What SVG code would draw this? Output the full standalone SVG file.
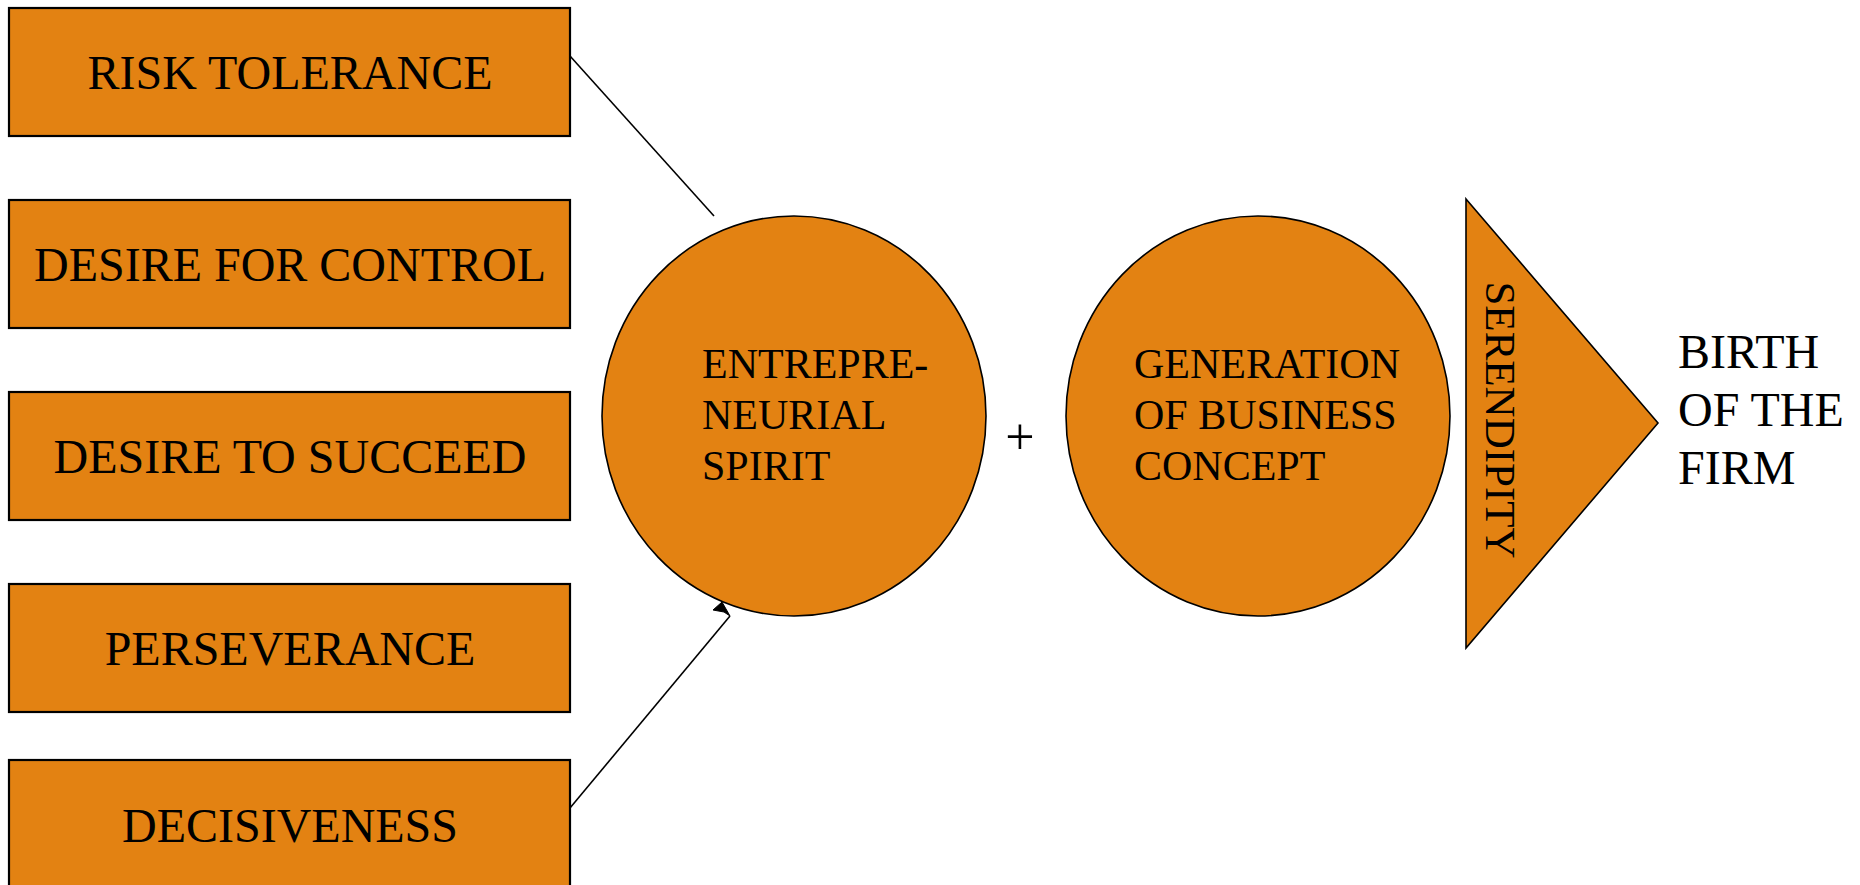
<svg xmlns="http://www.w3.org/2000/svg" width="1860" height="885" viewBox="0 0 1860 885">
<style>
.box{fill:#E38212;stroke:#000;stroke-width:2.2}
.shape{fill:#E38212;stroke:#000;stroke-width:1.6}
.t{font-family:"Liberation Serif","Times New Roman",serif;fill:#000}
.bt{font-size:48px;text-anchor:middle}
.ct{font-size:42px}
.conn{stroke:#000;stroke-width:1.6;fill:none}
</style>
<rect width="1860" height="885" fill="#fff"/>
<g id="risk-tolerance">
<rect class="box" x="9" y="8" width="561" height="128"/>
<text class="t bt" x="290" y="89">RISK TOLERANCE</text>
</g>
<g id="desire-for-control">
<rect class="box" x="9" y="200" width="561" height="128"/>
<text class="t bt" x="290" y="281">DESIRE FOR CONTROL</text>
</g>
<g id="desire-to-succeed">
<rect class="box" x="9" y="392" width="561" height="128"/>
<text class="t bt" x="290" y="473">DESIRE TO SUCCEED</text>
</g>
<g id="perseverance">
<rect class="box" x="9" y="584" width="561" height="128"/>
<text class="t bt" x="290" y="665">PERSEVERANCE</text>
</g>
<g id="decisiveness">
<rect class="box" x="9" y="760" width="561" height="130"/>
<text class="t bt" x="290" y="842">DECISIVENESS</text>
</g>
<g id="entrepreneurial-spirit">
<ellipse class="shape" cx="794" cy="416" rx="192" ry="200"/>
<text class="t ct" x="702" y="378">ENTREPRE-</text>
<text class="t ct" x="702" y="429">NEURIAL</text>
<text class="t ct" x="702" y="480">SPIRIT</text>
</g>
<g id="plus">
<text class="t" x="1020" y="454" font-size="52" text-anchor="middle">+</text>
</g>
<g id="business-concept">
<ellipse class="shape" cx="1258" cy="416" rx="192" ry="200"/>
<text class="t ct" x="1134" y="378">GENERATION</text>
<text class="t ct" x="1134" y="429">OF BUSINESS</text>
<text class="t ct" x="1134" y="480">CONCEPT</text>
</g>
<g id="serendipity">
<polygon class="shape" points="1466,199 1658,423 1466,648"/>
<text class="t" font-size="43" text-anchor="middle" transform="translate(1486,420) rotate(90)">SERENDIPITY</text>
</g>
<g id="birth-of-the-firm">
<text class="t" font-size="48" x="1678" y="368">BIRTH</text>
<text class="t" font-size="48" x="1678" y="426">OF THE</text>
<text class="t" font-size="48" x="1678" y="484">FIRM</text>
</g>
<g id="connectors">
<line class="conn" x1="570" y1="56" x2="714" y2="216"/>
<polyline class="conn" points="570,808 730,616"/>
<polygon points="713,610 722,602 730,616 724,612" fill="#000" stroke="#000" stroke-width="1"/>
</g>
</svg>
